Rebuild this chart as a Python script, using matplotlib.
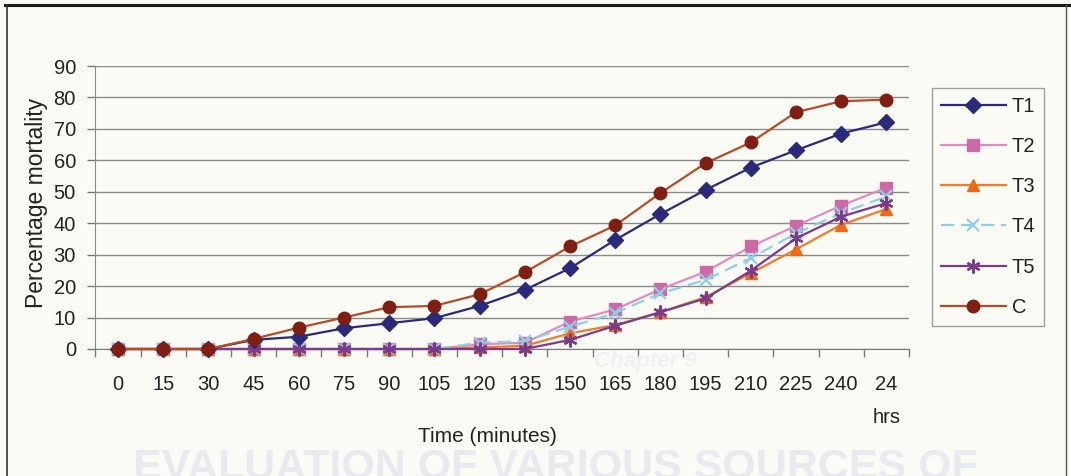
import matplotlib
matplotlib.use("Agg")
import matplotlib.pyplot as plt
from matplotlib.lines import Line2D

# Percentage mortality over time (Excel style chart, scanned page)
times = ['0', '15', '30', '45', '60', '75', '90', '105', '120', '135',
         '150', '165', '180', '195', '210', '225', '240', '24\nhrs']

t1 = [0, 0, 0, 2.9, 3.9, 6.6, 8.2, 9.8, 13.7, 18.8, 25.7, 34.7, 42.9, 50.6, 57.7, 63.2, 68.5, 72.1]
t2 = [0, 0, 0, 0, 0, 0, 0, 0, 1.5, 2.0, 8.7, 12.6, 19.0, 24.6, 32.6, 39.2, 45.6, 51.3]
t3 = [0, 0, 0, 0, 0, 0, 0, 0, 0.5, 1.0, 5.0, 7.6, 11.7, 16.5, 24.1, 31.7, 39.5, 44.5]
t4 = [0, 0, 0, 0, 0, 0, 0, 0, 2.0, 2.5, 7.1, 11.4, 17.7, 22.0, 28.9, 36.8, 43.2, 48.5]
t5 = [0, 0, 0, 0, 0, 0, 0, 0, 0, 0, 2.9, 7.4, 11.7, 16.1, 24.9, 35.2, 42.1, 46.4]
ctrl = [0, 0, 0, 3.2, 6.8, 10.0, 13.3, 13.7, 17.4, 24.4, 32.6, 39.3, 49.6, 59.1, 65.7, 75.3, 78.8, 79.3]

plt.rcParams['font.family'] = ['Liberation Sans', 'DejaVu Sans']

W, H = 1071, 476
bg = '#fbfbf6'
fig = plt.figure(figsize=(W / 100, H / 100), dpi=100, facecolor=bg)

def fx(px):
    return px / W

def fy(py):
    return 1 - py / H

# faint bleed-through from the scanned page
fig.text(fx(555), fy(479), 'EVALUATION OF VARIOUS SOURCES OF', ha='center', va='baseline',
         fontsize=31, fontweight='bold', color='#e8eaf0', zorder=0)
fig.text(fx(645), fy(361), 'Chapter 9', ha='center', va='center', fontsize=16,
         fontstyle='italic', fontweight='bold', color='#eef0f3', zorder=0)

ax = fig.add_axes([fx(95.4), fy(349), fx(909) - fx(95.4), fy(66) - fy(349)])
ax.set_facecolor('none')

x = list(range(len(times)))
ax.plot(x, t1, color='#2b2a7a', lw=1.6, marker='D', ms=8, mfc='#2b2a7a', mec='#2b2a7a',
        label='T1', clip_on=False, zorder=5)
ax.plot(x, t2, color='#e08cc4', lw=1.6, marker='s', ms=8, mfc='#cc6aa8', mec='#cc6aa8',
        label='T2', clip_on=False, zorder=4)
ax.plot(x, t3, color='#f07a2a', lw=1.6, marker='^', ms=9, mfc='#ee6a1a', mec='#ee6a1a',
        label='T3', clip_on=False, zorder=4)
ax.plot(x, t4, color='#8ecfe6', lw=1.6, ls=(0, (6, 3)), marker='x', ms=9, mew=1.6,
        mec='#8ecfe6', label='T4', clip_on=False, zorder=4)
ax.plot(x, t5, color='#7a3b8c', lw=1.6, marker=(6, 2, 0), ms=10, mew=1.6, mec='#7a3b8c',
        label='T5', clip_on=False, zorder=4)
ax.plot(x, ctrl, color='#b84a25', lw=1.6, marker='o', ms=9, mfc='#7f1f14', mec='#7f1f14',
        label='C', clip_on=False, zorder=5)

ax.set_xlim(-0.5, len(times) - 0.5)
ax.set_ylim(0, 90)
ax.set_yticks(range(0, 91, 10))
ax.set_xticks(x)
ax.set_xticklabels(times, linespacing=1.9, va='top')
ax.set_xticks([i - 0.5 for i in range(len(times) + 1)], minor=True)
ax.tick_params(axis='x', which='major', length=0, pad=19, labelsize=14.5, colors='#222222')
ax.tick_params(axis='x', which='minor', length=6, width=1, color='#777777', direction='out')
ax.tick_params(axis='y', length=6, width=1, color='#777777', pad=8, labelsize=14.5,
               labelcolor='#222222')

ax.grid(axis='y', color='#8a8a8a', lw=1)
ax.set_axisbelow(True)
for s in ['top', 'right']:
    ax.spines[s].set_visible(False)
ax.spines['left'].set_color('#8a8a8a')
ax.spines['bottom'].set_color('#777777')

fig.text(fx(37), fy(203), 'Percentage mortality', rotation=90, ha='center', va='center',
         fontsize=16.5, color='#222222')
fig.text(fx(487), fy(437), 'Time (minutes)', ha='center', va='center', fontsize=15,
         color='#222222')

leg = ax.legend(loc='upper left', bbox_to_anchor=(fx(932), fy(88)),
                bbox_transform=fig.transFigure, frameon=True, fancybox=False,
                fontsize=14.5, handlelength=3.2, handletextpad=0.3, labelspacing=1.05,
                borderpad=0.45, borderaxespad=0, edgecolor='#8a8a8a', facecolor=bg)
leg.get_frame().set_linewidth(1)
for t in leg.get_texts():
    t.set_color('#222222')

# page frame
fig.add_artist(Line2D([fx(5), fx(1071)], [fy(5), fy(5)], color='#1a1a1a', lw=2.2))
fig.add_artist(Line2D([fx(7), fx(7)], [fy(5), fy(476)], color='#333333', lw=1.2))
fig.add_artist(Line2D([fx(1066), fx(1066)], [fy(5), fy(476)], color='#555555', lw=1.0))

fig.savefig('out.png', dpi=100, facecolor=bg)
